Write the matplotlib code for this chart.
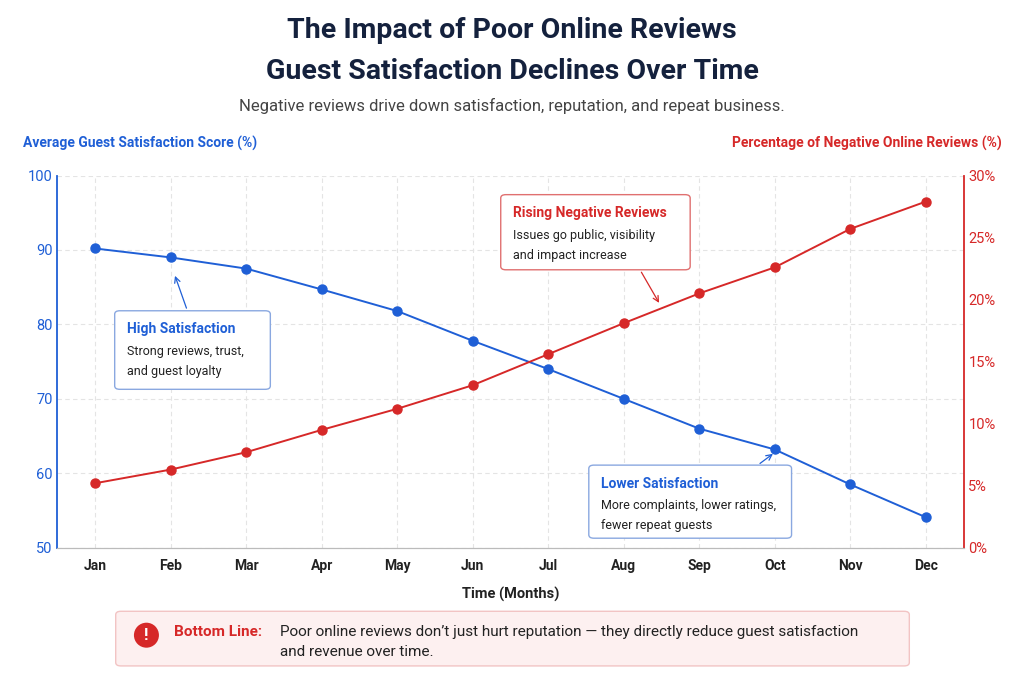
import matplotlib
matplotlib.use("Agg")
import matplotlib.pyplot as plt
from matplotlib.patches import FancyBboxPatch

plt.rcParams['font.family'] = ['Roboto', 'DejaVu Sans']

months = ["Jan","Feb","Mar","Apr","May","Jun","Jul","Aug","Sep","Oct","Nov","Dec"]
satisfaction = [90.2, 89.0, 87.5, 84.7, 81.8, 77.8, 74.0, 70.0, 66.0, 63.2, 58.5, 54.1]
negative = [5.2, 6.3, 7.7, 9.5, 11.2, 13.1, 15.6, 18.1, 20.5, 22.6, 25.7, 27.9]

BLUE = "#1f5fd6"
RED = "#d62828"
NAVY = "#14213d"

fig = plt.figure(figsize=(10.24, 6.83), dpi=100)
ax = fig.add_axes([0.056, 0.198, 0.885, 0.545])
ax2 = ax.twinx()
x = list(range(len(months)))

ax.plot(x, satisfaction, color=BLUE, lw=1.4, marker='o', ms=6.5, zorder=3)
ax2.plot(x, negative, color=RED, lw=1.4, marker='o', ms=6.5, zorder=3)

ax.set_xlim(-0.5, 11.5)
ax.set_ylim(50, 100)
ax2.set_ylim(0, 30)
ax.set_xticks(x)
ax.set_xticklabels(months, fontsize=10, fontweight='bold', color="#222")
ax.set_yticks(range(50, 101, 10))
ax.tick_params(axis='y', colors=BLUE, labelsize=10.5, length=0)
ax.tick_params(axis='x', length=0, pad=8)
ax2.set_yticks(range(0, 31, 5))
ax2.set_yticklabels([f"{v}%" for v in range(0, 31, 5)])
ax2.tick_params(axis='y', colors=RED, labelsize=10.5, length=0)
ax.grid(True, color="#e4e4e4", ls=(0, (4, 3)), lw=0.8)
for s in ['top']:
    ax.spines[s].set_visible(False); ax2.spines[s].set_visible(False)
ax2.spines['left'].set_color(BLUE); ax2.spines['left'].set_linewidth(1.3)
ax2.spines['right'].set_color(RED); ax2.spines['right'].set_linewidth(1.3)
ax2.spines['bottom'].set_color("#bbb")
ax.spines['left'].set_visible(False); ax.spines['right'].set_visible(False)
ax.spines['bottom'].set_color("#bbb")
ax.set_xlabel("Time (Months)", fontsize=10.5, fontweight='bold', color="#222", labelpad=10)

fig.text(0.5, 0.955, "The Impact of Poor Online Reviews", ha='center', va='center', fontsize=20.5, fontweight='bold', color=NAVY)
fig.text(0.5, 0.895, "Guest Satisfaction Declines Over Time", ha='center', va='center', fontsize=20.5, fontweight='bold', color=NAVY)
fig.text(0.5, 0.845, "Negative reviews drive down satisfaction, reputation, and repeat business.", ha='center', va='center', fontsize=12, color="#444")
fig.text(0.022, 0.79, "Average Guest Satisfaction Score (%)", ha='left', va='center', fontsize=10, fontweight='bold', color=BLUE)
fig.text(0.978, 0.79, "Percentage of Negative Online Reviews (%)", ha='right', va='center', fontsize=10, fontweight='bold', color=RED)

def box(x0, y0, w, h, ec, title, body, tc):
    p = FancyBboxPatch((x0, y0), w, h, boxstyle="round,pad=0,rounding_size=0.005",
                       transform=fig.transFigure, fc="white", ec=ec, lw=1, zorder=5)
    fig.add_artist(p)
    fig.text(x0 + 0.012, y0 + h - 0.027, title, fontsize=10, fontweight='bold', color=tc, va='center', zorder=6)
    fig.text(x0 + 0.012, y0 + h - 0.05, body, fontsize=9, color="#222", va='top', linespacing=1.7, zorder=6)

box(0.112, 0.43, 0.152, 0.115, "#8aa8e0", "High Satisfaction", "Strong reviews, trust,\nand guest loyalty", BLUE)
box(0.489, 0.605, 0.185, 0.11, "#e07070", "Rising Negative Reviews", "Issues go public, visibility\nand impact increase", RED)
box(0.575, 0.212, 0.198, 0.107, "#8aa8e0", "Lower Satisfaction", "More complaints, lower ratings,\nfewer repeat guests", BLUE)

fig.add_artist(plt.Annotation("", xy=(0.17, 0.6), xytext=(0.183, 0.545), xycoords='figure fraction',
               arrowprops=dict(arrowstyle='->', color=BLUE, lw=0.9)))
fig.add_artist(plt.Annotation("", xy=(0.645, 0.553), xytext=(0.625, 0.605), xycoords='figure fraction',
               arrowprops=dict(arrowstyle='->', color=RED, lw=0.9)))
fig.add_artist(plt.Annotation("", xy=(0.757, 0.338), xytext=(0.74, 0.319), xycoords='figure fraction',
               arrowprops=dict(arrowstyle='->', color=BLUE, lw=0.9)))

p = FancyBboxPatch((0.113, 0.025), 0.775, 0.08, boxstyle="round,pad=0,rounding_size=0.005",
                   transform=fig.transFigure, fc="#fdf0f0", ec="#f2c4c4", lw=1)
fig.add_artist(p)
fig.text(0.143, 0.07, "!", ha='center', va='center', fontsize=12, fontweight='bold', color='white',
         bbox=dict(boxstyle='circle,pad=0.3', fc=RED, ec='none'))
fig.text(0.17, 0.075, "Bottom Line:", fontsize=11, fontweight='bold', color=RED, va='center')
fig.text(0.273, 0.075, "Poor online reviews don\u2019t just hurt reputation \u2014 they directly reduce guest satisfaction",
         fontsize=11, color="#222", va='center')
fig.text(0.273, 0.045, "and revenue over time.", fontsize=11, color="#222", va='center')

fig.savefig("out.png", dpi=100, facecolor='white')
